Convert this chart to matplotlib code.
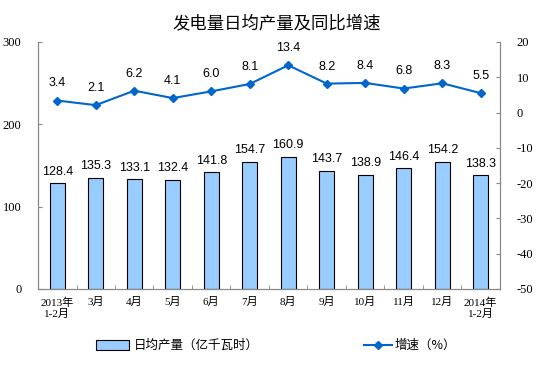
import matplotlib.pyplot as plt
import numpy as np

plt.rcParams['font.family'] = ['Liberation Sans', 'Noto Sans CJK SC', 'DejaVu Sans']
plt.rcParams['axes.unicode_minus'] = False

months = ["2013年\n1-2月", "3月", "4月", "5月", "6月", "7月", "8月", "9月",
          "10月", "11月", "12月", "2014年\n1-2月"]
daily_output = [128.4, 135.3, 133.1, 132.4, 141.8, 154.7, 160.9, 143.7,
                138.9, 146.4, 154.2, 138.3]
growth = [3.4, 2.1, 6.2, 4.1, 6.0, 8.1, 13.4, 8.2, 8.4, 6.8, 8.3, 5.5]

bar_color = "#99CCFF"
line_color = "#0066CC"
spine_color = "#888888"

fig = plt.figure(figsize=(5.54, 3.81), dpi=100)
ax = fig.add_axes([0.0686, 0.2415, 0.8339, 0.6483])
ax2 = ax.twinx()

x = np.arange(len(months))
bars = ax.bar(x, daily_output, width=0.4, color=bar_color, edgecolor="black",
              linewidth=0.8, label="日均产量（亿千瓦时）", zorder=2)
for xi, v in zip(x, daily_output):
    ax.annotate(f"{v:.1f}", (xi, v), xytext=(0, 4), textcoords="offset points",
                ha="center", va="bottom", fontsize=9)

ax2.plot(x, growth, color=line_color, marker="D", markersize=4, linewidth=1.5,
         label="增速（%）", zorder=3)
for xi, v in zip(x, growth):
    ax2.annotate(f"{v:.1f}", (xi, v), xytext=(0, 8), textcoords="offset points",
                 ha="center", va="bottom", fontsize=9)

ax.set_xlim(-0.5, len(months) - 0.5)
ax.set_ylim(0, 300)
ax.set_yticks([0, 100, 200, 300])
ax2.set_ylim(-50, 20)
ax2.set_yticks(range(-50, 21, 10))

ax.set_xticks(x)
ax.set_xticklabels(months, fontsize=8, family=['Liberation Serif', 'Noto Sans CJK SC'])
ax.set_xticks(np.arange(-0.5, len(months), 1), minor=True)
ax.tick_params(axis="x", which="major", length=0, pad=6)
ax.tick_params(axis="x", which="minor", length=3, direction="in", color=spine_color)
ax.tick_params(axis="y", direction="in", length=3, color=spine_color, labelsize=9, pad=12)
ax2.tick_params(axis="y", direction="in", length=3, color=spine_color, labelsize=9, pad=12)
for lab in ax.get_yticklabels() + ax2.get_yticklabels():
    lab.set_family(['Liberation Serif'])

for a in (ax, ax2):
    a.spines["top"].set_visible(False)
    for s in ("left", "right", "bottom"):
        a.spines[s].set_color(spine_color)

fig.text(0.5, 0.94, "发电量日均产量及同比增速", ha="center", va="center",
         fontsize=12.5, family=['Noto Sans CJK SC'])

fig.legend(handles=[bars], loc="center", bbox_to_anchor=(0.32, 0.093), frameon=False,
           handlelength=2.6, handleheight=0.8, handletextpad=0.4,
           prop={'family': ['Noto Sans CJK SC'], 'size': 9})
line_handle = ax2.get_lines()[0]
fig.legend(handles=[line_handle], loc="center", bbox_to_anchor=(0.74, 0.093), frameon=False,
           handlelength=2.3, handletextpad=0.2,
           prop={'family': ['Noto Sans CJK SC'], 'size': 9})

fig.savefig("out.png", dpi=100)
